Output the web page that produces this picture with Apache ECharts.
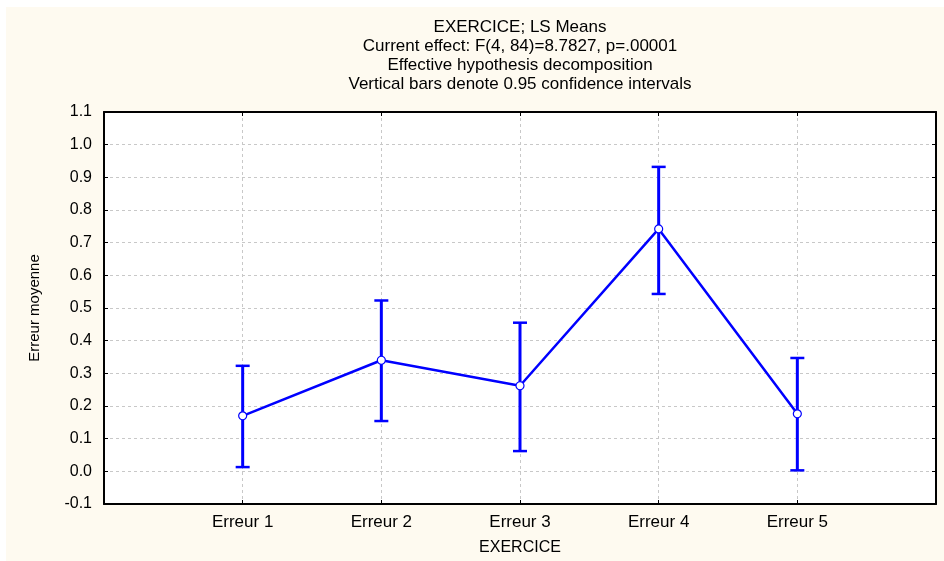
<!DOCTYPE html>
<html>
<head>
<meta charset="utf-8">
<script src="https://cdn.jsdelivr.net/npm/echarts@6/dist/echarts.min.js"></script>
<style>
  html, body { margin: 0; padding: 0; background: #ffffff; }
  #chart { position: absolute; left: 6px; top: 7px; width: 938px; height: 554px; background: #fefaf0; }
</style>
</head>
<body>
<div id="chart"></div>
<script>
// ---- data ----
const titleLines = [
  'EXERCICE; LS Means',
  'Current effect: F(4, 84)=8.7827, p=.00001',
  'Effective hypothesis decomposition',
  'Vertical bars denote 0.95 confidence intervals'
];
const categories = ['Erreur 1', 'Erreur 2', 'Erreur 3', 'Erreur 4', 'Erreur 5'];
const means = [0.170, 0.340, 0.262, 0.742, 0.176];
const upper = [0.323, 0.523, 0.455, 0.932, 0.347];
const lower = [0.013, 0.154, 0.062, 0.543, 0.003];
const yMin = -0.1, yMax = 1.1, yStep = 0.1;
const xName = 'EXERCICE';
const yName = 'Erreur moyenne';

// ---- chart ----
const BLUE = '#0000ff';
const FONT = 'Liberation Sans, Arial, sans-serif';
const NARROW = 'Liberation Sans Narrow, Liberation Sans, Arial, sans-serif';

const meanData = means.map((v, i) => [i + 1, v]);
const ciData = categories.map((c, i) => [i + 1, lower[i], upper[i]]);

const chart = echarts.init(document.getElementById('chart'), null, { renderer: 'canvas' });

const tickFmt = v => (Math.abs(v) < 1e-9 ? 0 : v).toFixed(1);

chart.setOption({
  backgroundColor: '#fefaf0',
  animation: false,
  title: {
    text: titleLines.join('\n'),
    left: 514,
    top: 11,
    textAlign: 'center',
    padding: 0,
    textStyle: { fontFamily: FONT, fontSize: 17, fontWeight: 'normal', color: '#000', lineHeight: 19 }
  },
  grid: { left: 98, right: 8, top: 105, bottom: 56, show: true, backgroundColor: '#ffffff', borderWidth: 0 },
  xAxis: [
    {
      type: 'value', min: 0, max: categories.length + 1, interval: 1,
      position: 'bottom',
      name: xName, nameLocation: 'middle', nameGap: 36,
      nameTextStyle: { fontFamily: FONT, fontSize: 16, color: '#000' },
      axisLine: { show: true, onZero: false, lineStyle: { color: '#000', width: 2 } },
      axisTick: { show: true, inside: true, length: 4, lineStyle: { color: '#000', width: 1 } },
      axisLabel: {
        margin: 10, fontFamily: NARROW, fontSize: 17, color: '#000',
        formatter: v => categories[v - 1] || ''
      },
      splitLine: { show: true, lineStyle: { color: '#c8c8c8', type: [3, 3], width: 1 } }
    },
    {
      type: 'value', min: 0, max: categories.length + 1, interval: 1,
      position: 'top',
      axisLine: { show: true, onZero: false, lineStyle: { color: '#000', width: 2 } },
      axisTick: { show: true, inside: true, length: 4, lineStyle: { color: '#000', width: 1 } },
      axisLabel: { show: false },
      splitLine: { show: false }
    }
  ],
  yAxis: [
    {
      type: 'value', min: yMin, max: yMax, interval: yStep,
      position: 'left',
      name: yName, nameLocation: 'middle', nameGap: 62, nameRotate: 90,
      nameTextStyle: { fontFamily: NARROW, fontSize: 15, color: '#000' },
      axisLine: { show: true, onZero: false, lineStyle: { color: '#000', width: 2 } },
      axisTick: { show: true, inside: true, length: 4, lineStyle: { color: '#000', width: 1 } },
      axisLabel: { margin: 12, fontFamily: FONT, fontSize: 16, color: '#000', formatter: tickFmt },
      splitLine: { show: true, lineStyle: { color: '#c8c8c8', type: [3, 3], width: 1 } }
    },
    {
      type: 'value', min: yMin, max: yMax, interval: yStep,
      position: 'right',
      axisLine: { show: true, onZero: false, lineStyle: { color: '#000', width: 2 } },
      axisTick: { show: true, inside: true, length: 4, lineStyle: { color: '#000', width: 1 } },
      axisLabel: { show: false },
      splitLine: { show: false }
    }
  ],
  series: [
    {
      type: 'custom',
      xAxisIndex: 0, yAxisIndex: 0,
      data: ciData,
      encode: { x: 0, y: [1, 2] },
      z: 3,
      renderItem: function (params, api) {
        const x = api.value(0);
        const lo = api.coord([x, api.value(1)]);
        const hi = api.coord([x, api.value(2)]);
        const half = 7;
        const style = { stroke: BLUE, lineWidth: 3 };
        return {
          type: 'group',
          children: [
            { type: 'line', shape: { x1: hi[0], y1: hi[1], x2: lo[0], y2: lo[1] }, style: style },
            { type: 'line', shape: { x1: hi[0] - half, y1: hi[1], x2: hi[0] + half, y2: hi[1] }, style: { stroke: BLUE, lineWidth: 2.5 } },
            { type: 'line', shape: { x1: lo[0] - half, y1: lo[1], x2: lo[0] + half, y2: lo[1] }, style: { stroke: BLUE, lineWidth: 2.5 } }
          ]
        };
      }
    },
    {
      type: 'line',
      xAxisIndex: 0, yAxisIndex: 0,
      data: meanData,
      z: 5,
      symbol: 'circle',
      symbolSize: 8,
      lineStyle: { color: BLUE, width: 2.5 },
      itemStyle: { color: '#ffffff', borderColor: BLUE, borderWidth: 1.2 }
    }
  ]
});
</script>
</body>
</html>
